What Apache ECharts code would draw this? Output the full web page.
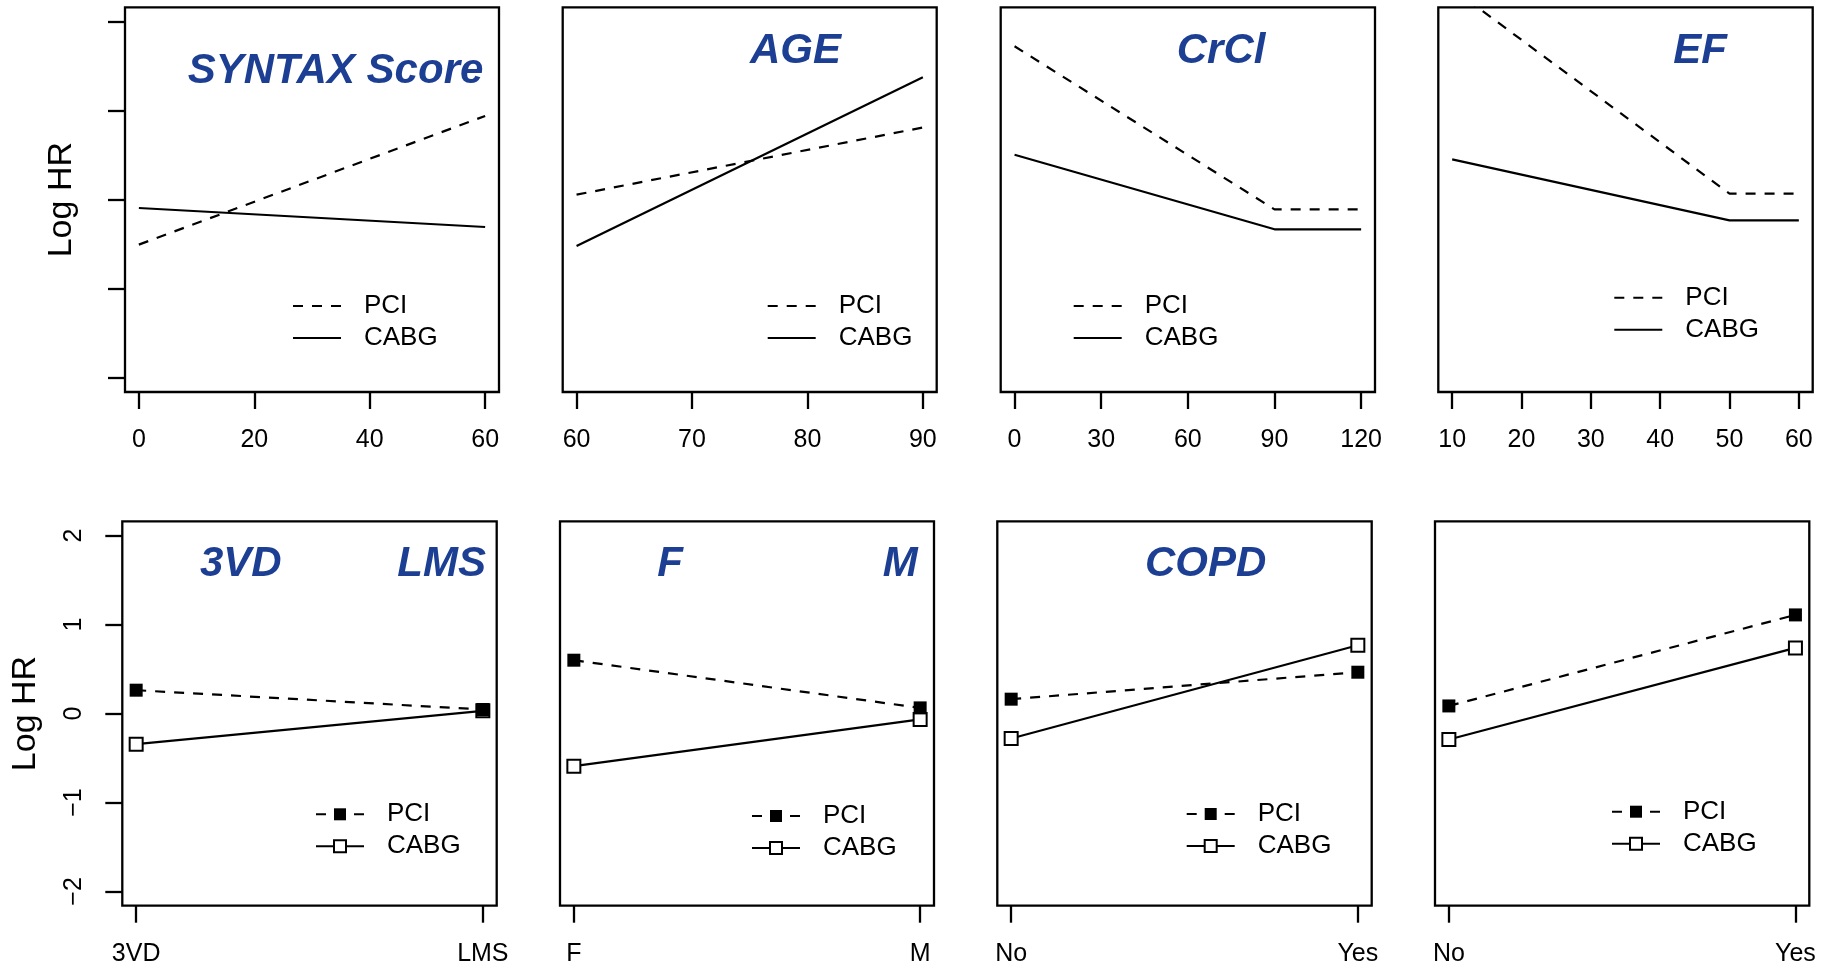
<!DOCTYPE html>
<html>
<head>
    <meta charset="utf-8">
    <title>Log HR panels</title>
    <script src="https://cdn.jsdelivr.net/npm/echarts@6/dist/echarts.min.js"></script>
    <style>
        html, body { margin: 0; padding: 0; background: #fff; }
    </style>
</head>
<body>
    <div id="chart" style="width: 1831px;height:969px;"></div>
    <script type="text/javascript">
        // values
        var yTicks = [-2, -1, 0, 1, 2];

        var syntaxX = [0, 60];
        var syntaxPCI = [-0.505, 0.94];
        var syntaxCABG = [-0.094, -0.307];
        var syntaxTicks = [0, 20, 40, 60];

        var ageX = [60, 90];
        var agePCI = [0.056, 0.81];
        var ageCABG = [-0.52, 1.374];
        var ageTicks = [60, 70, 80, 90];

        var crclX = [0, 90, 120];
        var crclPCI = [1.722, -0.109, -0.109];
        var crclCABG = [0.504, -0.333, -0.333];
        var crclTicks = [0, 30, 60, 90, 120];

        var efX = [10, 50, 60];
        var efPCI = [2.37, 0.067, 0.067];
        var efCABG = [0.452, -0.232, -0.232];
        var efTicks = [10, 20, 30, 40, 50, 60];

        var lesionCats = ['3VD', 'LMS'];
        var lesionPCI = [0.262, 0.045];
        var lesionCABG = [-0.345, 0.03];

        var sexCats = ['F', 'M'];
        var sexPCI = [0.599, 0.063];
        var sexCABG = [-0.592, -0.067];

        var copdCats = ['No', 'Yes'];
        var copdPCI = [0.161, 0.464];
        var copdCABG = [-0.281, 0.767];

        var lastCats = ['No', 'Yes'];
        var lastPCI = [0.085, 1.108];
        var lastCABG = [-0.292, 0.737];

        var FONT = '"Liberation Sans", Arial, Helvetica, sans-serif';
        var BLUE = '#1c3f94';

        // panel layout: box [left, top, width, height], legend [left, top], titles [text, left, top]
        var panels = [
            {x: syntaxX, pci: syntaxPCI, cabg: syntaxCABG, ticks: syntaxTicks,
             box: [125, 7.3, 374, 384.7], leg: [292, 290], titles: [['SYNTAX Score', 187.7, 50.5]], ylab: 46},
            {x: ageX, pci: agePCI, cabg: ageCABG, ticks: ageTicks,
             box: [562.7, 7.3, 374, 384.7], leg: [766.7, 290], titles: [['AGE', 750, 30.5]]},
            {x: crclX, pci: crclPCI, cabg: crclCABG, ticks: crclTicks,
             box: [1000.7, 7.3, 374.3, 384.7], leg: [1072.7, 290], titles: [['CrCl', 1176.7, 30.5]]},
            {x: efX, pci: efPCI, cabg: efCABG, ticks: efTicks,
             box: [1438.3, 7.3, 374.4, 384.7], leg: [1613.3, 281.7], titles: [['EF', 1673.3, 30.5]]},
            {cats: lesionCats, pci: lesionPCI, cabg: lesionCABG,
             box: [122.3, 521.3, 374.4, 384.4], leg: [315, 798.3], titles: [['3VD', 200, 543.8], ['LMS', 397.3, 543.8]], ylab: 80},
            {cats: sexCats, pci: sexPCI, cabg: sexCABG,
             box: [560, 521.3, 374, 384.4], leg: [751, 800], titles: [['F', 657.3, 543.8], ['M', 882.7, 543.8]]},
            {cats: copdCats, pci: copdPCI, cabg: copdCABG,
             box: [997.3, 521.3, 374.4, 384.4], leg: [1185.7, 798], titles: [['COPD', 1145, 543.8]]},
            {cats: lastCats, pci: lastPCI, cabg: lastCABG,
             box: [1435, 521.3, 374.3, 384.4], leg: [1611, 795.7], titles: []}
        ];

        function minus(v) { return String(v).replace('-', '\u2212'); }

        var grid = [], xAxis = [], yAxis = [], series = [], legend = [], title = [];

        panels.forEach(function (p, i) {
            var cat = !!p.cats;
            var firstCol = !!p.ylab;
            var ticks = cat ? p.cats.map(function (c, k) { return k + 1; }) : p.ticks;
            var lo = ticks[0], hi = ticks[ticks.length - 1];
            var pad = (hi - lo) * 0.04;

            grid.push({left: p.box[0], top: p.box[1], width: p.box[2], height: p.box[3],
                show: true, borderColor: '#000', borderWidth: 2.3, backgroundColor: 'transparent'});

            xAxis.push({
                gridIndex: i, type: 'value', min: lo - pad, max: hi + pad,
                axisLine: {show: false, onZero: false},
                axisTick: {show: true, inside: false, length: 17, lineStyle: {color: '#000', width: 2.3}, customValues: ticks},
                splitLine: {show: false},
                axisLabel: {
                    show: true, customValues: ticks, fontSize: 25, color: '#000', fontFamily: FONT, margin: 36,
                    formatter: function (v) { return cat ? p.cats[Math.round(v) - 1] : String(v); }
                }
            });

            yAxis.push({
                gridIndex: i, type: 'value', min: -2.16, max: 2.16,
                axisLine: {show: false, onZero: false},
                axisTick: {show: firstCol, inside: false, length: 17, lineStyle: {color: '#000', width: 2.3}, customValues: yTicks},
                splitLine: {show: false},
                axisLabel: {show: cat && firstCol, customValues: yTicks, rotate: 90, fontSize: 25, color: '#000',
                    fontFamily: FONT, margin: 36, formatter: minus},
                name: firstCol ? 'Log HR' : '',
                nameLocation: 'middle',
                nameGap: p.ylab || 0,
                nameTextStyle: {fontSize: 34, color: '#000', fontFamily: FONT}
            });

            var pciName = cat ? 'PCI-pt' : 'PCI';
            var cabgName = cat ? 'CABG-pt' : 'CABG';
            var xs = cat ? ticks : p.x;

            series.push({
                type: 'line', name: cabgName, xAxisIndex: i, yAxisIndex: i,
                data: xs.map(function (v, k) { return [v, p.cabg[k]]; }),
                symbol: cat ? 'emptyRect' : 'none', symbolSize: 13, showSymbol: cat,
                itemStyle: {color: '#000', borderColor: '#000', borderWidth: 2},
                lineStyle: {color: '#000', width: 2.2, type: 'solid'},
                silent: true, animation: false
            });
            series.push({
                type: 'line', name: pciName, xAxisIndex: i, yAxisIndex: i,
                data: xs.map(function (v, k) { return [v, p.pci[k]]; }),
                symbol: cat ? 'rect' : 'none', symbolSize: 13, showSymbol: cat,
                itemStyle: {color: '#000'},
                lineStyle: {color: '#000', width: 2.2, type: [10, 9]},
                silent: true, animation: false
            });

            var leg = {
                data: [pciName, cabgName], orient: 'vertical', left: p.leg[0], top: p.leg[1],
                padding: 0, itemWidth: 48, itemHeight: 15, itemGap: 0, selectedMode: false,
                formatter: function (n) { return n.replace('-pt', ''); },
                textStyle: {fontSize: 26, color: '#000', fontFamily: FONT, lineHeight: 32, padding: [0, 0, 0, 18]}
            };
            // plain lines in the legend when the series have no points
            if (!cat) leg.itemStyle = {opacity: 0};
            legend.push(leg);

            p.titles.forEach(function (t) {
                title.push({text: t[0], left: t[1], top: t[2], padding: 0,
                    textStyle: {fontSize: 42, fontWeight: 'bold', fontStyle: 'italic', color: BLUE, fontFamily: FONT}});
            });
        });

        var myChart = echarts.init(document.getElementById('chart'));
        myChart.setOption({
            backgroundColor: '#fff',
            animation: false,
            title: title,
            legend: legend,
            grid: grid,
            xAxis: xAxis,
            yAxis: yAxis,
            series: series
        });
    </script>
</body>
</html>
